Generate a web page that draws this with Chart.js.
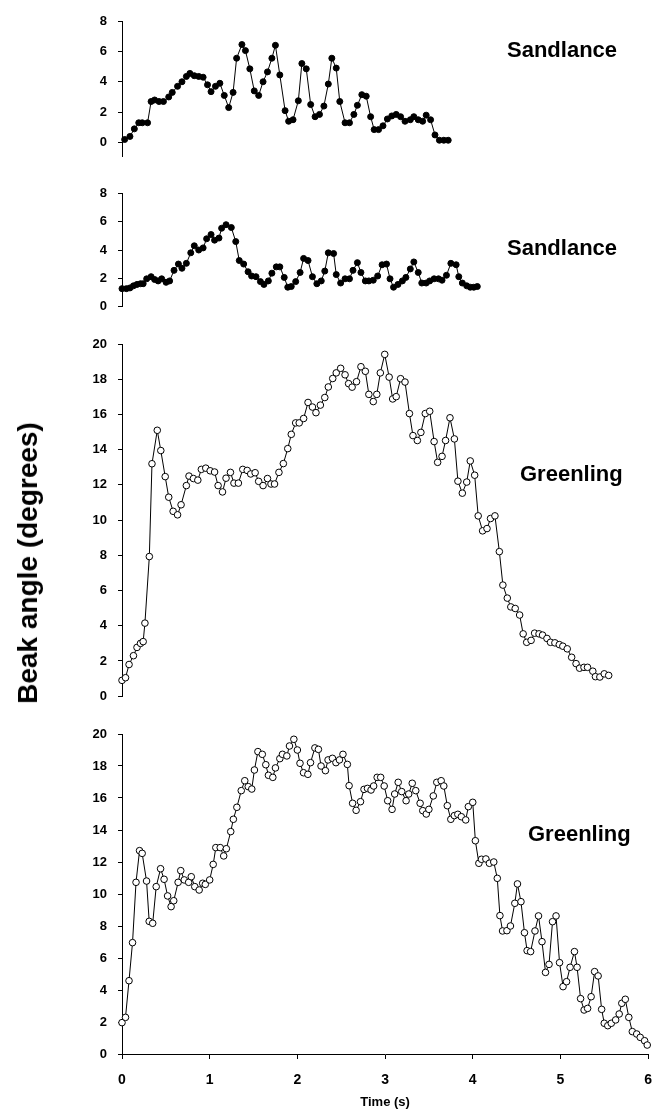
<!DOCTYPE html>
<html>
<head>
<meta charset="utf-8">
<script src="https://cdn.jsdelivr.net/npm/chart.js@4.4.1/dist/chart.umd.min.js"></script>
<style>
html,body{margin:0;padding:0;background:#fff;}
#wrap{position:relative;width:665px;height:1113px;overflow:hidden;font-family:"Liberation Sans",Arial,sans-serif;color:#000;}
canvas{position:absolute;left:0;}
.lbl{position:absolute;font-weight:bold;font-size:22px;line-height:22px;white-space:nowrap;}
#ytitle{position:absolute;left:28px;top:563px;transform:translate(-50%,-50%) rotate(-90deg);font-size:28px;font-weight:bold;white-space:nowrap;line-height:30px;}
</style>
</head>
<body>
<div id="wrap">
  <canvas id="c1" width="665" height="175" style="top:0px"></canvas>
  <canvas id="c2" width="665" height="150" style="top:175px"></canvas>
  <canvas id="c3" width="665" height="390" style="top:325px"></canvas>
  <canvas id="c4" width="665" height="398" style="top:715px"></canvas>
  <div class="lbl" style="left:507px;top:39px">Sandlance</div>
  <div class="lbl" style="left:507px;top:237px">Sandlance</div>
  <div class="lbl" style="left:520px;top:463px">Greenling</div>
  <div class="lbl" style="left:528px;top:823px">Greenling</div>
  <div id="ytitle">Beak angle (degrees)</div>
</div>
<script>
// ---- data (time in s, beak angle in degrees) ----
const sand1Time = [0.03,0.09,0.14,0.19,0.23,0.29,0.33,0.37,0.42,0.47,0.53,0.57,0.63,0.68,0.73,0.77,0.82,0.87,0.92,0.97,1.01,1.06,1.11,1.16,1.21,1.26,1.30,1.36,1.40,1.45,1.50,1.55,1.60,1.65,1.70,1.74,1.79,1.85,1.89,1.94,2.00,2.04,2.09,2.14,2.19,2.24,2.29,2.34,2.38,2.43,2.47,2.53,2.58,2.63,2.67,2.72,2.77,2.82,2.86,2.91,2.96,3.01,3.06,3.11,3.16,3.21,3.27,3.31,3.36,3.41,3.45,3.50,3.55,3.60,3.65,3.70];
const sand1Angle = [0.2,0.4,0.9,1.3,1.3,1.3,2.7,2.8,2.7,2.7,3.0,3.3,3.7,4.0,4.35,4.55,4.4,4.35,4.3,3.8,3.35,3.7,3.9,3.1,2.3,3.3,5.55,6.45,6.05,4.85,3.4,3.1,4.0,4.65,5.55,6.4,4.45,2.1,1.4,1.5,2.75,5.2,4.85,2.5,1.7,1.85,2.4,3.85,5.55,4.9,2.7,1.3,1.3,1.85,2.45,3.15,3.05,1.7,0.85,0.85,1.1,1.55,1.75,1.85,1.7,1.4,1.5,1.7,1.5,1.4,1.8,1.5,0.5,0.15,0.15,0.15];

const sand2Time = [0.00,0.05,0.09,0.13,0.17,0.21,0.24,0.28,0.33,0.37,0.41,0.45,0.50,0.54,0.59,0.64,0.68,0.73,0.78,0.82,0.87,0.92,0.96,1.01,1.05,1.10,1.13,1.18,1.24,1.29,1.33,1.38,1.43,1.47,1.52,1.57,1.61,1.66,1.70,1.75,1.79,1.84,1.88,1.92,1.97,2.02,2.06,2.11,2.16,2.21,2.26,2.30,2.34,2.40,2.43,2.48,2.53,2.58,2.62,2.67,2.71,2.76,2.80,2.85,2.90,2.95,3.00,3.04,3.08,3.13,3.18,3.22,3.27,3.31,3.36,3.40,3.45,3.49,3.54,3.59,3.63,3.68,3.73,3.79,3.82,3.86,3.91,3.95,3.99,4.03];
const sand2Angle = [1.25,1.25,1.3,1.45,1.55,1.6,1.6,1.95,2.1,1.9,1.8,1.95,1.7,1.8,2.55,3.0,2.7,3.05,3.8,4.3,4.0,4.15,4.8,5.1,4.7,4.85,5.55,5.8,5.6,4.6,3.25,3.0,2.45,2.15,2.1,1.75,1.55,1.8,2.35,2.8,2.8,2.05,1.35,1.4,1.75,2.4,3.4,3.25,2.1,1.6,1.8,2.5,3.8,3.75,2.25,1.65,1.95,1.95,2.55,3.1,2.4,1.8,1.8,1.85,2.15,2.95,3.0,1.95,1.35,1.55,1.8,2.05,2.65,3.15,2.4,1.65,1.65,1.8,1.95,1.95,1.85,2.2,3.05,2.95,2.1,1.65,1.45,1.35,1.35,1.4];

const green1Time = [0.00,0.04,0.08,0.13,0.17,0.21,0.24,0.26,0.31,0.34,0.40,0.44,0.49,0.53,0.58,0.63,0.67,0.73,0.76,0.81,0.86,0.90,0.95,1.00,1.05,1.09,1.14,1.18,1.23,1.27,1.32,1.37,1.42,1.46,1.51,1.55,1.60,1.65,1.69,1.73,1.78,1.83,1.88,1.92,1.97,2.01,2.06,2.11,2.16,2.20,2.25,2.30,2.34,2.39,2.43,2.48,2.53,2.57,2.61,2.66,2.71,2.76,2.80,2.85,2.89,2.93,2.98,3.03,3.07,3.11,3.16,3.21,3.26,3.30,3.35,3.39,3.44,3.49,3.54,3.58,3.63,3.67,3.72,3.77,3.81,3.86,3.91,3.95,4.00,4.04,4.09,4.14,4.18,4.23,4.28,4.32,4.37,4.41,4.46,4.51,4.55,4.59,4.64,4.68,4.73,4.77,4.82,4.86,4.91,4.96,5.00,5.05,5.10,5.15,5.19,5.24,5.28,5.34,5.37,5.42,5.47,5.52];
const green1Angle = [0.9,1.05,1.8,2.3,2.77,3.0,3.1,4.15,7.93,13.2,15.1,13.95,12.47,11.3,10.5,10.3,10.87,11.96,12.5,12.36,12.27,12.88,12.95,12.8,12.73,11.96,11.6,12.38,12.71,12.1,12.1,12.88,12.82,12.62,12.69,12.2,11.96,12.36,12.05,12.05,12.71,13.21,14.06,14.87,15.52,15.52,15.77,16.68,16.42,16.1,16.53,16.96,17.56,18.04,18.36,18.62,18.25,17.75,17.55,17.86,18.71,18.45,17.14,16.73,17.14,18.36,19.41,18.12,16.88,17.01,18.03,17.84,16.05,14.8,14.52,14.98,16.05,16.18,14.46,13.28,13.62,14.52,15.81,14.61,12.21,11.53,12.16,13.36,12.55,10.24,9.39,9.52,10.09,10.24,8.21,6.31,5.57,5.07,4.98,4.61,3.54,3.06,3.17,3.58,3.54,3.47,3.28,3.06,3.03,2.93,2.84,2.69,2.21,1.85,1.59,1.64,1.64,1.42,1.11,1.09,1.27,1.18];

const green2Time = [0.00,0.04,0.08,0.12,0.16,0.20,0.23,0.28,0.31,0.35,0.39,0.44,0.48,0.52,0.56,0.59,0.64,0.67,0.71,0.76,0.79,0.83,0.88,0.92,0.95,1.00,1.04,1.07,1.12,1.16,1.19,1.24,1.27,1.31,1.36,1.40,1.44,1.48,1.51,1.55,1.60,1.64,1.67,1.72,1.75,1.80,1.83,1.88,1.91,1.96,2.00,2.03,2.07,2.12,2.15,2.20,2.24,2.27,2.32,2.35,2.40,2.44,2.48,2.52,2.57,2.59,2.63,2.67,2.72,2.76,2.80,2.84,2.87,2.91,2.95,2.99,3.03,3.08,3.11,3.15,3.19,3.24,3.27,3.31,3.35,3.40,3.43,3.47,3.50,3.55,3.59,3.64,3.67,3.71,3.75,3.79,3.83,3.87,3.92,3.95,4.00,4.03,4.07,4.10,4.15,4.19,4.24,4.28,4.31,4.34,4.39,4.43,4.48,4.51,4.55,4.59,4.62,4.66,4.71,4.75,4.79,4.83,4.87,4.91,4.95,4.99,5.03,5.07,5.11,5.16,5.19,5.23,5.27,5.31,5.35,5.39,5.43,5.47,5.50,5.54,5.58,5.63,5.67,5.70,5.74,5.78,5.82,5.87,5.91,5.96,5.99];
const green2Angle = [1.96,2.29,4.58,6.96,10.73,12.71,12.54,10.81,8.29,8.17,10.46,11.58,10.92,9.88,9.21,9.58,10.73,11.46,10.88,10.73,11.08,10.46,10.25,10.67,10.6,10.88,11.85,12.9,12.9,12.38,12.83,13.9,14.67,15.42,16.46,17.08,16.71,16.56,17.75,18.9,18.73,18.08,17.42,17.29,17.88,18.46,18.73,18.63,19.25,19.67,19.0,18.17,17.58,17.48,18.21,19.13,19.04,18.0,17.71,18.38,18.48,18.21,18.38,18.73,18.1,16.77,15.67,15.23,15.77,16.54,16.6,16.5,16.75,17.29,17.29,16.75,15.83,15.29,16.25,16.98,16.4,15.83,16.25,16.92,16.46,15.67,15.21,15.0,15.29,16.13,16.98,17.08,16.75,15.52,14.67,14.9,14.98,14.83,14.63,15.46,15.73,13.33,11.92,12.17,12.19,11.92,12.0,10.98,8.65,7.69,7.71,8.0,9.42,10.63,9.52,7.58,6.46,6.4,7.69,8.63,7.02,5.1,5.6,8.27,8.63,5.71,4.21,4.52,5.42,6.4,5.42,3.46,2.75,2.85,3.58,5.15,4.88,2.79,1.92,1.77,1.92,2.13,2.5,3.17,3.42,2.29,1.4,1.25,1.04,0.83,0.56];

const smallTicks = [0,2,4,6,8];
const largeTicks = [0,2,4,6,8,10,12,14,16,18,20];
const timeTicks = [0,1,2,3,4,5,6];

// ---- drawing ----
const FAM = "'Liberation Sans', Arial, sans-serif";

function panel(id, times, values, o) {
  const pts = times.map((t, i) => ({x: t, y: values[i]}));
  const xScale = {
    type: 'linear', min: 0, max: 6, display: o.showX,
    afterBuildTicks: s => { s.ticks = timeTicks.map(v => ({value: v})); },
    afterFit: s => { if (o.showX) s.height = 59; },
    grid: {display: true, drawOnChartArea: false, drawTicks: true, tickLength: 5, color: '#000', lineWidth: 1},
    border: {display: true, color: '#000', width: 1},
    ticks: {color: '#000', font: {family: FAM, weight: 'bold', size: 14}, padding: 13, maxRotation: 0},
    title: {display: o.showX, text: 'Time (s)', color: '#000', font: {family: FAM, weight: 'bold', size: 13}, padding: {top: 0, bottom: 3}}
  };
  return new Chart(document.getElementById(id), {
    type: 'line',
    data: {datasets: [{
      data: pts,
      borderColor: '#000', borderWidth: 1, tension: 0,
      pointRadius: o.r, pointBorderWidth: 1, pointBorderColor: '#000',
      pointBackgroundColor: o.fill, clip: false
    }]},
    options: {
      responsive: false, animation: false, events: [],
      layout: {padding: {top: o.padTop, bottom: o.padBottom, left: 0, right: 14}},
      plugins: {legend: {display: false}, tooltip: {enabled: false}},
      scales: {
        x: xScale,
        y: {
          min: o.ymin, max: o.ymax,
          afterBuildTicks: s => { s.ticks = o.ticks.map(v => ({value: v})); },
          afterFit: s => { s.width = 122; },
          grid: {display: true, drawOnChartArea: false, drawTicks: true, tickLength: 4, color: '#000'},
          border: {display: true, color: '#000', width: 1},
          ticks: {color: '#000', font: {family: FAM, weight: 'bold', size: 13}, padding: 11}
        }
      }
    }
  });
}

panel('c1', sand1Time, sand1Angle, {ymin: -0.9, ymax: 8, ticks: smallTicks, padTop: 21, padBottom: 6, r: 3, fill: '#000', showX: false});
panel('c2', sand2Time, sand2Angle, {ymin: 0, ymax: 8, ticks: smallTicks, padTop: 12, padBottom: 5, r: 3, fill: '#000', showX: false});
panel('c3', green1Time, green1Angle, {ymin: 0, ymax: 20, ticks: largeTicks, padTop: 19, padBottom: 9, r: 3.3, fill: '#fff', showX: false});
panel('c4', green2Time, green2Angle, {ymin: 0, ymax: 20, ticks: largeTicks, padTop: 19, padBottom: 0, r: 3.3, fill: '#fff', showX: true});
</script>
</body>
</html>
